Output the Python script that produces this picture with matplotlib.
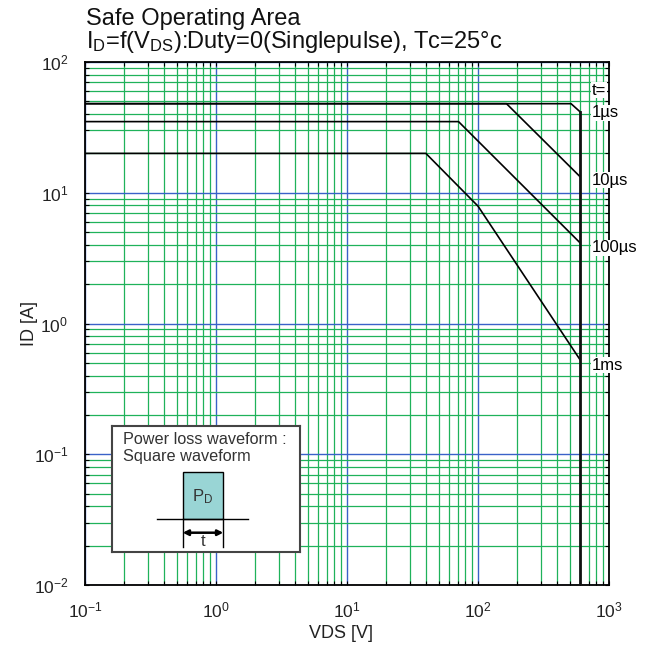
import numpy as np
import matplotlib
matplotlib.use("Agg")
import matplotlib.pyplot as plt
from matplotlib.ticker import LogLocator, NullFormatter
from matplotlib.patches import Rectangle

plt.rcParams["font.family"] = ["Liberation Sans", "DejaVu Sans"]
plt.rcParams["mathtext.fontset"] = "custom"
plt.rcParams["mathtext.rm"] = "Liberation Sans"
plt.rcParams["mathtext.it"] = "Liberation Sans:italic"
plt.rcParams["mathtext.bf"] = "Liberation Sans:bold"

# -----------------------------
# DATA
# -----------------------------
pulse_labels = ["1\u00b5s", "10\u00b5s", "100\u00b5s", "1ms"]
vds_1us = [0.1, 513, 600]
id_1us = [48, 48, 41.7]
vds_10us = [0.1, 165, 600]
id_10us = [48, 48, 13.3]
vds_100us = [0.1, 71, 600]
id_100us = [35, 35, 4.15]
vds_1ms = [0.1, 40, 100, 600]
id_1ms = [20, 20, 7.9, 0.53]
vds_max = 600
label_ids = [40.8, 12.5, 3.78, 0.48]
t_label_id = 61

GREEN = "#1fb25a"
BLUE = "#3a62c8"

fig = plt.figure(figsize=(6.48, 6.50), dpi=100)
ax = fig.add_axes([85 / 648, 1 - 585 / 650, 524 / 648, 523 / 650])

ax.set_xscale("log")
ax.set_yscale("log")
ax.set_xlim(0.1, 1000)
ax.set_ylim(0.01, 100)

for a in (ax.xaxis, ax.yaxis):
    a.set_minor_locator(LogLocator(base=10, subs=np.arange(2, 10), numticks=20))
    a.set_minor_formatter(NullFormatter())

ax.grid(which="minor", color=GREEN, lw=0.9)
ax.grid(which="major", color=BLUE, lw=1.0)
ax.set_axisbelow(True)

ax.tick_params(which="both", direction="in", length=3, width=0.8,
               top=True, right=True, labelsize=12.5, colors="black",
               labelcolor="#222222")
ax.tick_params(axis="y", pad=12)
ax.tick_params(axis="x", pad=11)
for s in ax.spines.values():
    s.set_linewidth(1.3)

# curves
for v, i in [(vds_1us, id_1us), (vds_10us, id_10us),
             (vds_100us, id_100us), (vds_1ms, id_1ms)]:
    ax.plot(v, i, color="black", lw=1.2, zorder=3)
ax.plot([vds_max, vds_max], [0.01, id_1us[-1]], color="#111111", lw=2.0, zorder=3)

# pulse width labels on the right edge
lbl_kw = dict(ha="left", va="center", fontsize=12, zorder=5, clip_on=False,
              bbox=dict(facecolor="white", edgecolor="none", pad=0.5))
ax.text(740, t_label_id, "t=", **lbl_kw)
for name, y in zip(pulse_labels, label_ids):
    ax.text(740, y, name, **lbl_kw)

# titles and axis labels
fig.text(86 / 648, 1 - 25 / 650, "Safe Operating Area", fontsize=17,
         va="baseline", ha="left", color="#111111")
fig.text(86 / 648, 1 - 48 / 650,
         r"I$_\mathrm{D}$=f(V$_\mathrm{DS}$):Duty=0(Singlepulse), Tc=25°c",
         fontsize=17, va="baseline", ha="left", color="#111111")
fig.text(341 / 648, 1 - 633 / 650, "VDS [V]", fontsize=13, ha="center", va="center",
         color="#222222")
fig.text(30 / 648, 1 - 323 / 650, "ID [A]", fontsize=13, ha="center", va="center",
         rotation=90, color="#222222")

# inset: power loss waveform sketch (pixel coordinates of the inset box)
bx0, bx1, by0, by1 = 111.7, 300.0, 426.0, 551.7
ins = fig.add_axes([bx0 / 648, 1 - by1 / 650, (bx1 - bx0) / 648, (by1 - by0) / 650])
ins.set_xlim(bx0, bx1)
ins.set_ylim(by1, by0)
ins.set_xticks([])
ins.set_yticks([])
for s in ins.spines.values():
    s.set_color("#444444")
    s.set_linewidth(1.5)
ins.text(123, 439, "Power loss waveform :", fontsize=11.7, color="#333333", va="center")
ins.text(123, 456, "Square waveform", fontsize=11.7, color="#333333", va="center")
ins.add_patch(Rectangle((182.7, 472.3), 40.6, 46.7, facecolor="#99d5d5",
                        edgecolor="black", lw=1.0))
ins.plot([156.7, 248.3], [519, 519], color="black", lw=1.0)
ins.text(203, 497, r"P$_\mathrm{D}$", fontsize=12, color="#333333",
         ha="center", va="center")
ins.plot([182.7, 182.7], [519, 546.7], color="black", lw=1.0)
ins.plot([223.3, 223.3], [519, 546.7], color="black", lw=1.0)
ins.annotate("", xy=(182.7, 532.7), xytext=(223.3, 532.7),
             arrowprops=dict(arrowstyle="<|-|>", color="black", lw=1.8,
                             mutation_scale=8, shrinkA=0, shrinkB=0))
ins.text(203, 541, "t", fontsize=12, color="#333333", ha="center", va="center")

fig.savefig("out.png", dpi=100)
